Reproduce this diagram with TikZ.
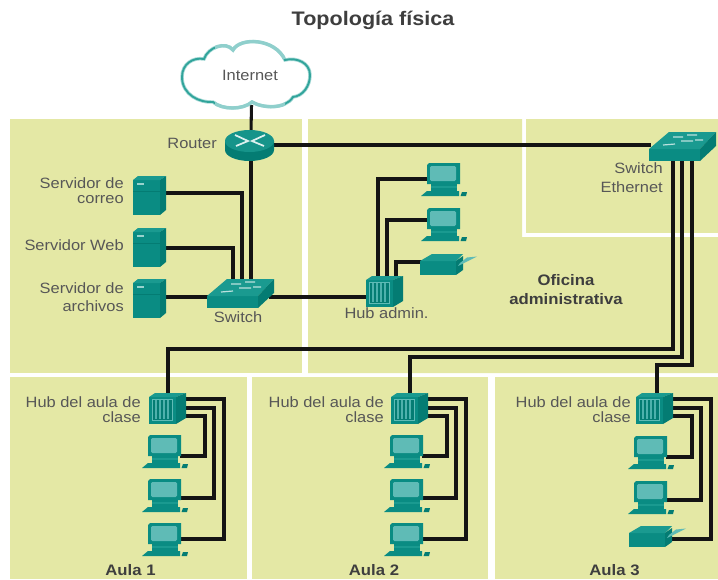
\documentclass[tikz,border=0pt]{standalone}
\usepackage{fontspec}
\setmainfont[FakeStretch=1.1]{Liberation Sans}
\usetikzlibrary{calc}
\definecolor{panel}{HTML}{E4E8A5}
\definecolor{tealA}{HTML}{0A8C83}
\definecolor{tealB}{HTML}{1A9A90}
\definecolor{tealC}{HTML}{047C73}
\definecolor{scr}{HTML}{5FBBB6}
\definecolor{txt}{HTML}{575757}
\definecolor{titlec}{HTML}{3E3E3E}
\newcommand{\cloudpath}{(182,77) .. controls (182,64) and (193,57) .. (204,59)
 .. controls (208,47) and (226,41) .. (233,50)
 .. controls (240,37) and (275,38) .. (285,60)
 .. controls (297,57) and (310,63) .. (310,75)
 .. controls (310,86) and (303,96) .. (293,97)
 .. controls (285,110) and (262,108) .. (252,102)
 .. controls (243,110) and (222,110) .. (213,102)
 .. controls (200,103) and (182,95) .. (182,77) -- cycle}
\tikzset{
  x=0.75pt,y=-0.75pt,
  panelbox/.style={fill=panel,draw=none},
  wire/.style={draw=black!92,line width=2.3pt,line join=miter},
  icon/.style={inner sep=0pt,outer sep=0pt,draw=none,minimum width=#1*0.75pt,anchor=north west},
  ih/.style={minimum height=#1*0.75pt},
  lab/.style={inner sep=0pt,text=txt,font=\fontsize{11.2}{11.4}\selectfont},
  labr/.style={lab,align=right,anchor=east},
  labb/.style={inner sep=0pt,text=titlec,font=\fontsize{11.4}{14.2}\selectfont\bfseries,align=center},
  server/.pic={
    \fill[tealA] (0,4) -- (27,4) -- (27,39) -- (0,39) -- cycle;
    \fill[tealB] (0,4) -- (5,0) -- (33,0) -- (27,4) -- cycle;
    \fill[tealC] (27,4) -- (33,0) -- (33,34) -- (27,39) -- cycle;
    \draw[tealC,line width=.4pt] (0,15) -- (27,15);
    \fill[white!55!tealB] (4,7) rectangle (11,8.5);
  },
  pcicon/.pic={
    \fill[tealA] (5,2) -- (7,0) -- (38,0) -- (38,21) -- (5,21) -- cycle;
    \fill[scr,rounded corners=1pt] (8,3) rectangle (34,18);
    \fill[tealA] (9,21) rectangle (35,28);
    \fill[tealB] (9,23) rectangle (35,24.5);
    \fill[tealA] (5,28) -- (37,28) -- (37,33) -- (-1,33) -- cycle;
    \fill[tealC] (40,29) -- (45,29) -- (44,33) -- (38.5,33) -- cycle;
  },
  hubicon/.pic={
    \fill[tealA] (0,4) rectangle (27,31);
    \fill[tealB] (0,4) -- (6,0) -- (37,0) -- (27,4) -- cycle;
    \fill[tealC] (27,4) -- (37,0) -- (37,25) -- (27,31) -- cycle;
    \fill[tealC] (3,6) rectangle (23,27);
    \draw[scr,line width=.4pt] (3,6) rectangle (23,27);
    \foreach \i in {6,10,14,18}{\fill[scr!80!tealA] (\i,7) rectangle (\i+1.6,26);}
  },
  printer/.pic={
    \fill[tealA] (0,7) rectangle (36,21);
    \fill[tealB] (0,7) -- (12,0) -- (43,0) -- (36,7) -- cycle;
    \fill[tealC] (36,7) -- (43,2) -- (43,16) -- (36,21) -- cycle;
    \fill[scr] (38,12) -- (57,2.5) -- (47,3.5) -- (40,9) -- cycle;
  },
  switchicon/.pic={
    \fill[tealA] (0,17) rectangle (51,29);
    \fill[tealB] (0,17) -- (20,0) -- (67,0) -- (51,17) -- cycle;
    \fill[tealC] (51,17) -- (67,0) -- (67,14) -- (51,29) -- cycle;
    \draw[white!70!tealB,line width=.9pt] (24,5) -- (34,5) (38,3) -- (48,3) (32,9) -- (44,9) (14,13) -- (26,12) (46,8) -- (54,8);
  },
  routericon/.pic={
    \shade[left color=tealC,middle color=scr,right color=tealC] (0,11) -- (0,20) arc[start angle=180,end angle=0,x radius=24.5,y radius=11] -- (49,11) -- cycle;
    \fill[tealB!80!tealC] (24.5,11) ellipse[x radius=24.5,y radius=11];
    \draw[white!85!tealB,line width=1.3pt] (10,5) -- (23,11) -- (11,16) (40,5) -- (27,11) -- (39,16);
  },
}
\begin{document}
\begin{tikzpicture}
\useasboundingbox (0,0) rectangle (718,579);
\fill[white] (0,0) rectangle (718,579);
% panels
\fill[panelbox] (10,119) rectangle (302,373);
\fill[panelbox] (308,119) -- (522,119) -- (522,237) -- (718,237) -- (718,373) -- (308,373) -- cycle;
\fill[panelbox] (526,119) rectangle (718,233);
\fill[panelbox] (10,377) rectangle (247,579);
\fill[panelbox] (252,377) rectangle (488,579);
\fill[panelbox] (495,377) rectangle (718,579);
% icon anchors
\node[icon=130,ih=68] (net) at (181,40) {};
\node[icon=49,ih=31] (router) at (225,130) {};
\node[icon=67,ih=29] (ether) at (649,132) {};
\node[icon=67,ih=29] (sw) at (207,279) {};
\node[icon=33,ih=39] (srvA) at (133,176) {};
\node[icon=33,ih=39] (srvB) at (133,228) {};
\node[icon=33,ih=39] (srvC) at (133,279) {};
\node[icon=37,ih=31] (hubA) at (366,276) {};
\node[icon=45,ih=34] (adA) at (422,163) {};
\node[icon=45,ih=34] (adB) at (422,208) {};
\node[icon=57,ih=21] (adP) at (420,254) {};
\node[icon=37,ih=31] (hub1) at (149,393) {};
\node[icon=45,ih=34] (pc11) at (143,435) {};
\node[icon=45,ih=34] (pc12) at (143,479) {};
\node[icon=45,ih=34] (pc13) at (143,523) {};
\node[icon=37,ih=31] (hub2) at (391,393) {};
\node[icon=45,ih=34] (pc21) at (385,435) {};
\node[icon=45,ih=34] (pc22) at (385,479) {};
\node[icon=45,ih=34] (pc23) at (385,523) {};
\node[icon=37,ih=31] (hub3) at (636,393) {};
\node[icon=45,ih=34] (pc31) at (629,436) {};
\node[icon=45,ih=34] (pc32) at (629,481) {};
\node[icon=57,ih=21] (pcP) at (629,526) {};
% connectors
\draw[wire] ($(net.south)+(5.5,-3)$) -- ($(router.north)+(1.5,2)$);
\draw[wire] ($(router.south)+(1.5,-2)$) -- ($(sw.north)+(10.5,2)$);
\draw[wire] (router.east) ++(-2,-0.5) -- ($(ether.west)+(2,-1.5)$);
\draw[wire] ($(srvA.east)+(-2,-2.5)$) -| ($(sw.north)+(1.5,2)$);
\draw[wire] ($(srvB.east)+(-2,0.5)$) -| ($(sw.north)+(-7.5,2)$);
\draw[wire] (srvC.east) ++(-2,-1.5) -- ($(sw.west)+(2,3.5)$);
\draw[wire] ($(sw.east)+(-5,3.5)$) -- ($(hubA.west)+(2,5.5)$);
\draw[wire] ($(adA.west)+(6,-1)$) -| ($(hubA.north)+(-6.5,2)$);
\draw[wire] ($(adB.west)+(6,-5)$) -| ($(hubA.north)+(2.5,2)$);
\draw[wire] ($(adP.west)+(2,-2.5)$) -| ($(hubA.north)+(11.5,2)$);
\draw[wire] ($(ether.south)+(-9.5,-2)$) |- ($(hub1.north)+(0.5,-44)$) -- ($(hub1.north)+(0.5,2)$);
\draw[wire] ($(ether.south)+(-0.5,-2)$) |- ($(hub2.north)+(0.5,-36)$) -- ($(hub2.north)+(0.5,2)$);
\draw[wire] ($(ether.south)+(9.5,-2)$) |- ($(hub3.north)+(2.5,-28)$) -- ($(hub3.north)+(2.5,2)$);
\foreach \h/\a/\b/\c/\k in {hub1/pc11/pc12/pc13/0,hub2/pc21/pc22/pc23/0,hub3/pc31/pc32/pcP/1}{
  \draw[wire] ($(\h.east)+(-2,7.5)$) -- ++(21,0) |- ($(\a.east)+(-8,4)$);
  \draw[wire] ($(\h.east)+(-2,-0.5)$) -- ++(30,0) |- ($(\b.east)+(-8,2)$);
}
\draw[wire] ($(hub1.east)+(-2,-9.5)$) -- ++(40,0) |- ($(pc13.east)+(-8,-1)$);
\draw[wire] ($(hub2.east)+(-2,-9.5)$) -- ++(40,0) |- ($(pc23.east)+(-8,-1)$);
\draw[wire] ($(hub3.east)+(-2,-9.5)$) -- ++(40,0) |- ($(pcP.east)+(-20,2.5)$);
% cloud
\fill[white] \cloudpath;
\draw[line width=2.6pt,draw=scr!55!white] \cloudpath;
\draw[line width=1.4pt,draw=tealB!90!white] \cloudpath;
\begin{scope}
\clip (215,35) rectangle (285,58);
\draw[line width=2.4pt,draw=scr!70!white] \cloudpath;
\end{scope}
\begin{scope}
\clip (215,98) rectangle (285,112);
\draw[line width=2.4pt,draw=scr!70!white] \cloudpath;
\end{scope}
% icons
\pic at (router.north west) {routericon};
\pic at (ether.north west) {switchicon};
\pic at (sw.north west) {switchicon};
\foreach \n in {srvA,srvB,srvC}{\pic at (\n.north west) {server};}
\foreach \n in {hubA,hub1,hub2,hub3}{\pic at (\n.north west) {hubicon};}
\foreach \n in {adA,adB,pc11,pc12,pc13,pc21,pc22,pc23,pc31,pc32}{\pic at (\n.north west) {pcicon};}
\foreach \n in {adP,pcP}{\pic at (\n.north west) {printer};}
% texts
\node[inner sep=0pt,text=titlec,font=\fontsize{14.7}{16}\selectfont\bfseries] (ttl) at (373,20) {Topología física};
\node[lab] (tnet) at (250,75) {Internet};
\node[labr] (trt) at (217,143) {Router};
\node[labr] (t1) at (124,191) {Servidor de\\correo};
\node[labr] (t2) at (124,245) {Servidor Web};
\node[labr] (t3) at (124,297) {Servidor de\\[2.5pt]archivos};
\node[lab] (t4) at (238,317) {Switch};
\node[lab] (t5) at (386.5,313) {Hub admin.};
\node[labr] (t6) at (663,177.5) {Switch\\[3pt]Ethernet};
\node[labb] (t7) at (566,289.5) {Oficina\\administrativa};
\node[labr] (t8) at (141,409.5) {Hub del aula de\\clase};
\node[labr] (t9) at (384,409.5) {Hub del aula de\\clase};
\node[labr] (t10) at (631,409.5) {Hub del aula de\\clase};
\node[labb] (a1) at (130.5,570) {Aula 1};
\node[labb] (a2) at (374,570) {Aula 2};
\node[labb] (a3) at (614.5,570) {Aula 3};
\end{tikzpicture}
\end{document}
